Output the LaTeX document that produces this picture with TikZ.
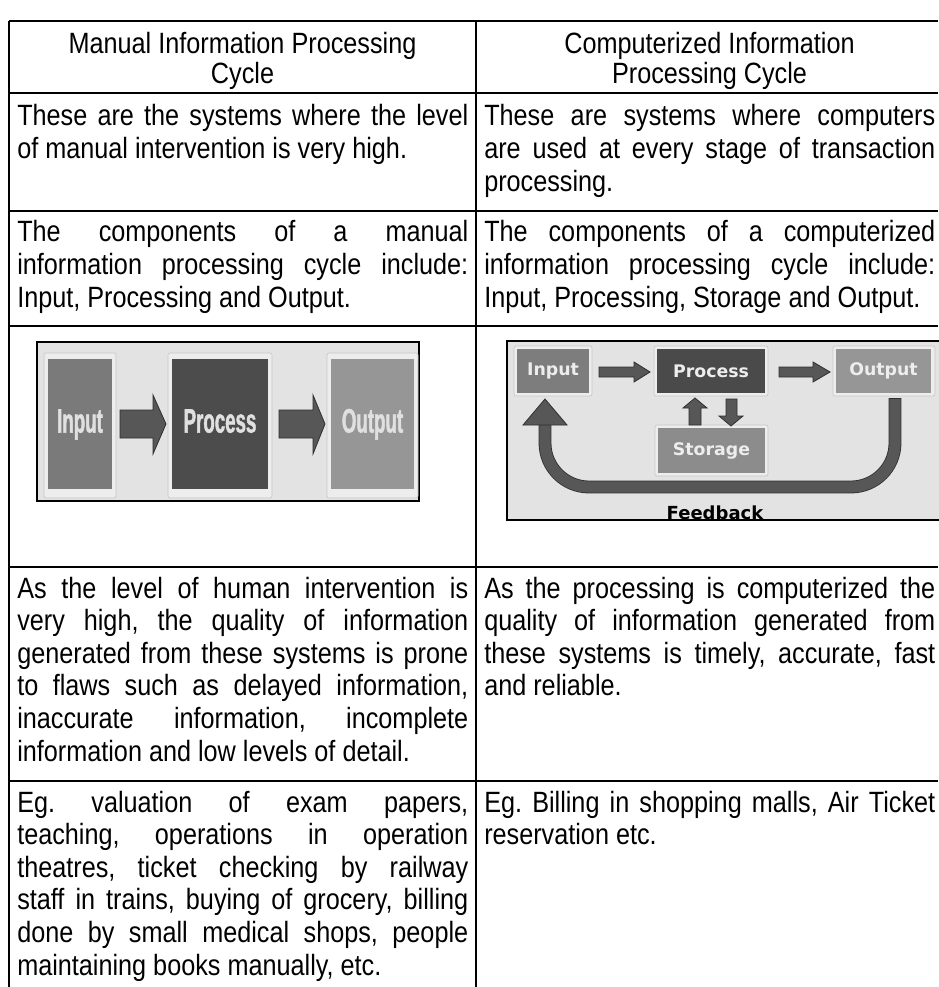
\documentclass[tikz,border=0pt]{standalone}
\usepackage{fontspec}
\setmainfont{Liberation Sans}[FakeStretch=0.86]
\newfontfamily\condfont{Liberation Sans}[FakeStretch=0.55, FakeBold=1.2]
\newfontfamily\diagfont{DejaVu Sans}
\frenchspacing
\newlength\colL \setlength\colL{338.25pt}
\newlength\colR \setlength\colR{338.25pt}
\newcommand\jl[1]{\makebox[\linewidth][s]{#1}\par}
\newcommand\el[1]{\makebox[\linewidth][l]{#1}\par}
\newcommand\cellL[1]{\parbox[t]{\colL}{\fontsize{22pt}{24.45pt}\selectfont\frenchspacing #1}}
\newcommand\cellR[1]{\parbox[t]{\colR}{\fontsize{22pt}{24.45pt}\selectfont\frenchspacing #1}}
\newcommand\headL[1]{\parbox[t]{\colL}{\centering\fontsize{22pt}{22.5pt}\selectfont #1}}
\newcommand\headR[1]{\parbox[t]{\colR}{\centering\fontsize{22pt}{22.5pt}\selectfont #1}}
\tikzset{
  rule/.style={line width=1.1pt, black},
  cell/.style={anchor=base west, inner sep=0pt},
  head/.style={anchor=base, inner sep=0pt},
  lbox/.style={inner sep=0pt, draw=none, text=white!88!black,
    font=\condfont\bfseries\fontsize{25.5pt}{25.5pt}\selectfont,
    text height=18.2pt, text depth=5.3pt, minimum height=97.5pt},
  rbox/.style={inner sep=0pt, draw=none, text=white!93!black,
    font=\diagfont\bfseries\fontsize{13pt}{13pt}\selectfont, minimum height=33pt},
  plate/.style={fill=white!93!black, draw=white!78!black, line width=0.5pt, rounded corners=1.5pt},
  barrow/.style={fill=black!66, draw=black!82, line width=0.6pt, line join=miter},
  imgbg/.style={fill=white!89!black, draw=black, line width=0.9pt},
}
\begin{document}
\begin{tikzpicture}[x=0.75pt, y=-0.75pt]
\useasboundingbox (0,0) rectangle (938,987);
\fill[white] (0,0) rectangle (938,987);

% ---------- table rules ----------
\draw[rule] (9,21) -- (938,21);
\draw[rule] (9,93) -- (938,93);
\draw[rule] (9,211) -- (938,211);
\draw[rule] (9,326) -- (938,326);
\draw[rule] (9,567) -- (938,567);
\draw[rule] (9,781) -- (938,781);
\draw[rule] (9,21) -- (9,987);
\draw[rule] (476,21) -- (476,987);

% ---------- header ----------
\node[head] (hl) at (242.5,54) {\headL{Manual Information Processing\\Cycle}};
\node[head] (hr) at (709.5,54) {\headR{Computerized Information\\Processing Cycle}};

% ---------- row 2 ----------
\node[cell] (r2l) at (17,126) {\cellL{%
\jl{These are the systems where the level}%
\el{of manual intervention is very high.}}};
\node[cell] (r2r) at (484,126) {\cellR{%
\jl{These are systems where computers}%
\jl{are used at every stage of transaction}%
\el{processing.}}};

% ---------- row 3 ----------
\node[cell] (r3l) at (17,242) {\cellL{%
\jl{The components of a manual}%
\jl{information processing cycle include:}%
\el{Input, Processing and Output.}}};
\node[cell] (r3r) at (484,242) {\cellR{%
\jl{The components of a computerized}%
\jl{information processing cycle include:}%
\el{Input, Processing, Storage and Output.}}};

% ---------- row 4: manual cycle picture ----------
\draw[imgbg] (37,342) rectangle (419,501);
\draw[plate] (44,353) rectangle (116,498);
\draw[plate] (168,353) rectangle (272,498);
\draw[plate] (327,353) rectangle (418,498);
\node[lbox, fill=black!52, minimum width=48pt] (mi) at (80,424) {Input};
\node[lbox, fill=black!70, minimum width=72pt] (mp) at (220,424) {Process};
\node[lbox, fill=black!41, minimum width=62.25pt] (mo) at (372.5,424) {Output};
\draw[barrow] (120,410) -- (153,410) -- (153,395) -- (166,424) -- (153,454) -- (153,438) -- (120,438) -- cycle;
\draw[barrow] (279,410) -- (313,410) -- (313,395) -- (325,424) -- (313,454) -- (313,438) -- (279,438) -- cycle;

% ---------- row 4: computerized cycle picture ----------
\draw[imgbg] (507,341) rectangle (941,520);
\draw[plate] (514,346) rectangle (592,396);
\draw[plate] (654,346) rectangle (768,396);
\draw[plate] (833,346) rectangle (935,396);
\draw[plate] (655,425) rectangle (768,476);
\node[rbox, fill=black!51, minimum width=54pt] (ci) at (553,371) {Input};
\node[rbox, fill=black!71, minimum width=81pt] (cp) at (711,371) {Process};
\node[rbox, fill=black!41, minimum width=71.25pt] (co) at (883.5,371) {Output};
\node[rbox, fill=black!45, minimum width=80.25pt, minimum height=33.75pt] (cs) at (711.5,450.5) {Storage};
\draw[barrow] (599,367) -- (634,367) -- (634,362) -- (650,372) -- (634,382) -- (634,377) -- (599,377) -- cycle;
\draw[barrow] (779,367) -- (813,367) -- (813,362) -- (830,372) -- (813,382) -- (813,377) -- (779,377) -- cycle;
\draw[barrow] (689,425) -- (689,408) -- (683,408) -- (695,398) -- (707,408) -- (701,408) -- (701,425) -- cycle;
\draw[barrow] (726,399) -- (737,399) -- (737,416) -- (743,416) -- (731,426) -- (719,416) -- (726,416) -- cycle;
\draw[draw=black!82, line width=0.6pt, double=black!66, double distance=8.4pt, rounded corners=33pt]
  (895,398) -- (895,487) -- (545,487) -- (545,424);
\draw[black!82, line width=0.6pt] (889,398) -- (901,398);
\draw[barrow] (523,425) -- (545,399) -- (567,425) -- cycle;
\node[inner sep=0pt, font=\diagfont\bfseries\fontsize{13.5pt}{13.5pt}\selectfont] (fb) at (715,513) {Feedback};

% ---------- row 5 ----------
\node[cell] (r5l) at (17,598) {\cellL{%
\jl{As the level of human intervention is}%
\jl{very high, the quality of information}%
\jl{generated from these systems is prone}%
\jl{to flaws such as delayed information,}%
\jl{inaccurate information, incomplete}%
\el{information and low levels of detail.}}};
\node[cell] (r5r) at (484,598) {\cellR{%
\jl{As the processing is computerized the}%
\jl{quality of information generated from}%
\jl{these systems is timely, accurate, fast}%
\el{and reliable.}}};

% ---------- row 6 ----------
\node[cell] (r6l) at (17,812) {\cellL{%
\jl{Eg. valuation of exam papers,}%
\jl{teaching, operations in operation}%
\jl{theatres, ticket checking by railway}%
\jl{staff in trains, buying of grocery, billing}%
\jl{done by small medical shops, people}%
\el{maintaining books manually, etc.}}};
\node[cell] (r6r) at (484,812) {\cellR{%
\jl{Eg. Billing in shopping malls, Air Ticket}%
\el{reservation etc.}}};
\end{tikzpicture}
\end{document}
